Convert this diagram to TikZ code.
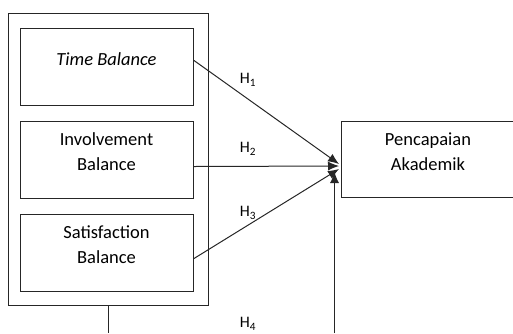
\documentclass[tikz,border=0pt]{standalone}
\usepackage{fontspec}
\setmainfont{Carlito}
\usetikzlibrary{arrows.meta}
\begin{document}
\begin{tikzpicture}[
	x=1pt, y=-1pt,
	font=\fontsize{18.5}{25}\selectfont,
	line width=1pt,
	box/.style={draw=black!85, inner sep=0pt, anchor=north west},
	var/.style={box, minimum width=173pt, minimum height=77pt},
	txt/.style={align=center, inner sep=0pt},
	hyp/.style={inner sep=0pt, font=\fontsize{16}{18}\selectfont},
	link/.style={draw=black!85, -{Latex[length=11pt,width=9pt]}},
	]
\useasboundingbox (0,0) rectangle (513,333);
% group of balance variables
\node [box, minimum width=200pt, minimum height=292pt] (group) at (8,13) {};
\node [var] (time) at (20,28) {};
\node [var] (inv) at (20,121) {};
\node [var] (sat) at (20,214) {};
\node [txt] (timetxt) at (106.5,59) {\textit{Time Balance}};
\node [txt] (invtxt) at (106.5,152) {Involvement\\Balance};
\node [txt] (sattxt) at (106.5,245) {Satisfaction\\Balance};
% dependent variable
\node [box, minimum width=171.5pt, minimum height=76pt] (acad) at (341,121) {};
\node [txt] (acadtxt) at (428,152) {Pencapaian\\Akademik};
% arrows
\coordinate (hub1) at (339,164);
\coordinate (hub2) at (339,166);
\coordinate (hub3) at (339,169);
\coordinate (hub4) at (334.5,172);
\coordinate (down1) at (group.south |- 0,333);
\coordinate (down2) at (334.5,333);
\draw [link] ([yshift=6.5pt]time.east) -- (hub1);
\draw [link] ([yshift=-6.5pt]inv.east) -- (hub2);
\draw [link] ([yshift=-5.5pt]sat.east) -- (hub3);
\draw [draw=black!85] (group.south) -- (down1);
\draw [link] (down2) -- (hub4);
% hypothesis labels
\node [hyp] (h1) at (248,80) {H\textsubscript{1}};
\node [hyp] (h2) at (248,149) {H\textsubscript{2}};
\node [hyp] (h3) at (248,213) {H\textsubscript{3}};
\node [hyp] (h4) at (248,324) {H\textsubscript{4}};
\end{tikzpicture}
\end{document}
